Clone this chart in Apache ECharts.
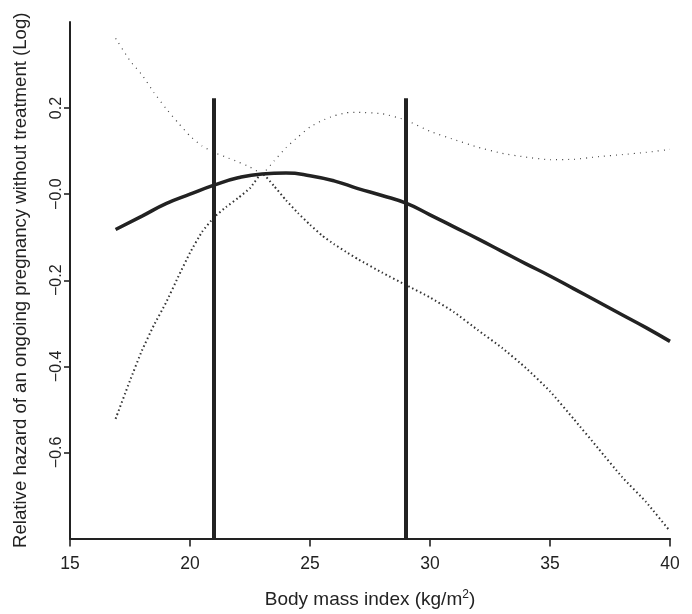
<!DOCTYPE html>
<html>
<head>
<meta charset="utf-8">
<script src="https://cdn.jsdelivr.net/npm/echarts@6/dist/echarts.min.js"></script>
<style>
  html, body { margin: 0; padding: 0; background: #fff; }
  #chart { width: 692px; height: 614px; }
</style>
</head>
<body>
<div id="chart"></div>
<script>
// fitted curve (log relative hazard) by BMI
const fitBmi = [16.9, 18, 19, 20, 21, 22, 23, 24, 25, 26, 27, 28, 29, 30, 31, 32, 33, 34, 35, 36, 37, 38, 39, 40];
const fitVal = [-0.082, -0.051, -0.022, 0.0, 0.021, 0.038, 0.047, 0.049, 0.043, 0.031, 0.013, -0.003, -0.021,
  -0.048, -0.076, -0.104, -0.133, -0.162, -0.19, -0.22, -0.25, -0.28, -0.31, -0.342];

// confidence band (upper = thin dots, lower = thick dots)
const ciBmi = [16.9, 17.5, 18, 18.5, 19, 19.5, 20, 20.5, 21, 21.5, 22, 22.5, 23, 23.5, 24, 24.5, 25, 25.5, 26, 26.5,
  27, 28, 29, 30, 31, 32, 33, 34, 35, 36, 37, 38, 39, 40];
const ciUpper = [0.362, 0.31, 0.277, 0.236, 0.199, 0.166, 0.135, 0.112, 0.097, 0.086, 0.075, 0.063, 0.048, 0.077,
  0.108, 0.133, 0.156, 0.171, 0.182, 0.189, 0.19, 0.187, 0.172, 0.146, 0.127, 0.109, 0.095, 0.086, 0.08, 0.081,
  0.087, 0.092, 0.097, 0.104];
const ciLower = [-0.522, -0.433, -0.363, -0.304, -0.252, -0.193, -0.136, -0.088, -0.054, -0.03, -0.009, 0.014, 0.048,
  0.019, -0.014, -0.044, -0.071, -0.096, -0.116, -0.134, -0.151, -0.182, -0.211, -0.24, -0.274, -0.316, -0.357,
  -0.404, -0.458, -0.523, -0.59, -0.657, -0.715, -0.783];

// vertical reference lines
const refBmi = [21, 29];
const refTop = 0.223;

const yTicks = [-0.6, -0.4, -0.2, 0, 0.2];
const X_MIN = 15, Y_MIN = -0.8;

const FONT = 'Liberation Sans';
const INK = '#222';

function pairs(xs, ys) {
  return xs.map((x, i) => [x, ys[i]]);
}
function yFmt(v) {
  if (Math.abs(v) < 1e-9) return '\u22120.0';
  return (v < 0 ? '\u2212' : '') + Math.abs(v).toFixed(1);
}

const myChart = echarts.init(document.getElementById('chart'), null, { renderer: 'canvas' });

const refSeries = refBmi.map(b => ({
  type: 'line',
  data: [[b, Y_MIN], [b, refTop]],
  symbol: 'none',
  silent: true,
  lineStyle: { color: INK, width: 4 },
  z: 5
}));

myChart.setOption({
  animation: false,
  backgroundColor: '#fff',
  textStyle: { fontFamily: FONT },
  grid: { left: 70, right: 22, top: 22, bottom: 75 },
  xAxis: {
    type: 'value',
    min: X_MIN, max: 40, interval: 5,
    name: 'Body mass index (kg/m{sup|2})',
    nameLocation: 'middle',
    nameGap: 50,
    nameTextStyle: {
      fontSize: 19, color: INK, fontFamily: FONT,
      rich: { sup: { fontSize: 12, color: INK, fontFamily: FONT, padding: [0, 0, 10, 0] } }
    },
    splitLine: { show: false },
    axisLine: { show: true, onZero: false, lineStyle: { color: INK, width: 2 } },
    axisTick: { show: true, length: 8, lineStyle: { color: INK, width: 1.6 } },
    axisLabel: { fontSize: 17.5, color: INK, margin: 17, fontFamily: FONT }
  },
  yAxis: {
    type: 'value',
    min: Y_MIN, max: 0.4, interval: 0.2,
    name: 'Relative hazard of an ongoing pregnancy without treatment (Log)',
    nameLocation: 'middle',
    nameGap: 40,
    nameRotate: 90,
    nameTextStyle: { fontSize: 18.6, color: INK, fontFamily: FONT },
    splitLine: { show: false },
    axisLine: { show: true, onZero: false, lineStyle: { color: INK, width: 2 } },
    axisTick: { show: true, length: 6, lineStyle: { color: INK, width: 1.6 }, customValues: yTicks },
    axisLabel: {
      fontSize: 16, color: INK, margin: 5, rotate: 90, fontFamily: FONT,
      customValues: yTicks, formatter: yFmt
    }
  },
  series: [
    {
      name: 'upper',
      type: 'line',
      data: pairs(ciBmi, ciUpper),
      symbol: 'none',
      smooth: 0.15,
      lineStyle: { color: '#444', width: 1.2, type: [1, 5] }
    },
    {
      name: 'lower',
      type: 'line',
      data: pairs(ciBmi, ciLower),
      symbol: 'none',
      smooth: 0.15,
      lineStyle: { color: '#333', width: 2, type: [1.5, 2.8] }
    },
    {
      name: 'fit',
      type: 'line',
      data: pairs(fitBmi, fitVal),
      symbol: 'none',
      smooth: true,
      lineStyle: { color: INK, width: 3.5 }
    }
  ].concat(refSeries)
});
</script>
</body>
</html>
